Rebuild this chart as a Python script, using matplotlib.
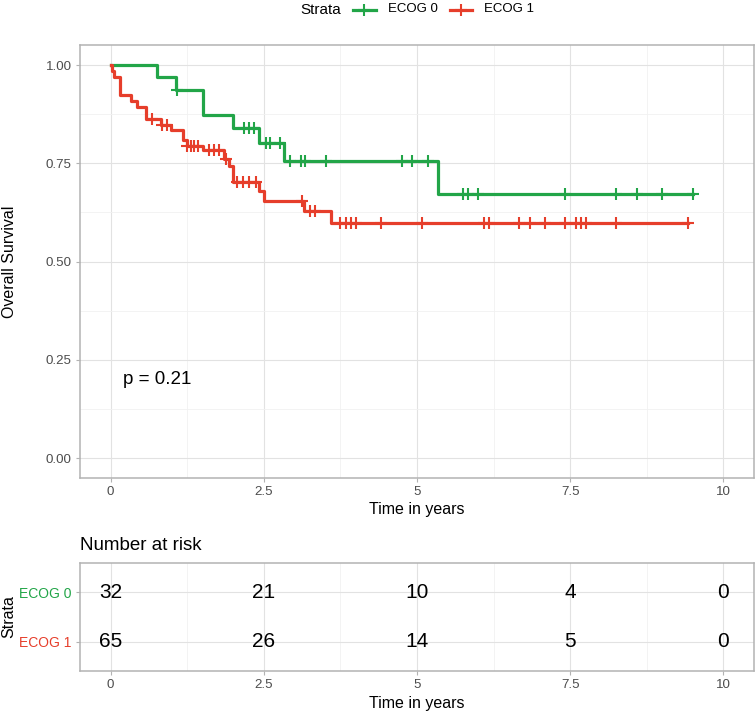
import numpy as np
import matplotlib
matplotlib.use("Agg")
import matplotlib.pyplot as plt
from matplotlib.lines import Line2D
from matplotlib.ticker import MultipleLocator

plt.rcParams['font.family'] = ['Liberation Sans', 'DejaVu Sans']

# Kaplan-Meier steps
ecog0_times = [0, 0.76, 1.07, 1.51, 2.00, 2.42, 2.83, 5.34]
ecog0_surv = [1.0, 0.969, 0.9375, 0.873, 0.840, 0.802, 0.755, 0.673]
ecog0_end = 9.50
ecog0_censor = [1.08, 2.18, 2.26, 2.34, 2.53, 2.60, 2.76, 2.92, 3.10, 3.17, 3.51,
                4.76, 4.92, 5.18, 5.75, 5.84, 6.00, 7.42, 8.25, 8.59, 9.00, 9.50]

ecog1_times = [0, 0.02, 0.05, 0.16, 0.34, 0.43, 0.58, 0.82, 0.98, 1.18, 1.25, 1.50,
               1.85, 1.93, 2.00, 2.42, 2.50, 3.16, 3.59]
ecog1_surv = [1.0, 0.985, 0.969, 0.923, 0.908, 0.892, 0.862, 0.848, 0.834, 0.810, 0.795,
              0.783, 0.761, 0.743, 0.703, 0.679, 0.654, 0.629, 0.599]
ecog1_end = 9.42
ecog1_censor = [0.67, 0.84, 0.92, 1.25, 1.31, 1.36, 1.43, 1.60, 1.69, 1.77, 1.89, 2.07,
                2.16, 2.26, 2.38, 3.13, 3.26, 3.34, 3.75, 3.84, 3.93, 4.00, 4.42, 5.08,
                6.09, 6.17, 6.67, 6.84, 7.09, 7.42, 7.59, 7.67, 7.75, 8.25, 9.42]

strata = ['ECOG 0', 'ECOG 1']
colors = ['#22A548', '#E63E2B']

risk_times = [0, 2.5, 5, 7.5, 10]
risk_ecog0 = [32, 21, 10, 4, 0]
risk_ecog1 = [65, 26, 14, 5, 0]

pval_text = 'p = 0.21'

W, H = 755, 712
fig = plt.figure(figsize=(W / 100, H / 100), dpi=100)

border = '#B3B3B3'
major = '#E2E2E2'
minor = '#F1F1F1'
tick_col = '#4D4D4D'


def style_axes(ax):
    for s in ax.spines.values():
        s.set_color(border)
        s.set_linewidth(1.1)
    ax.tick_params(which='major', length=3, width=0.8, color=border,
                   labelcolor=tick_col, labelsize=9.6, pad=3)
    ax.tick_params(which='minor', length=0)
    ax.grid(which='major', color=major, lw=0.8)
    ax.set_axisbelow(True)


# main survival panel
ax = fig.add_axes([80 / W, 1 - 477.7 / H, 674 / W, 432.3 / H])
style_axes(ax)
ax.xaxis.set_minor_locator(MultipleLocator(1.25))
ax.yaxis.set_minor_locator(MultipleLocator(0.125))
ax.grid(which='minor', color=minor, lw=0.6)

curves = [(ecog0_times, ecog0_surv, ecog0_end, ecog0_censor),
          (ecog1_times, ecog1_surv, ecog1_end, ecog1_censor)]
for (t, s, end, cens), col in zip(curves, colors):
    ax.step(t + [end], s + [s[-1]], where='post', color=col, lw=2.3, zorder=3)
    idx = np.searchsorted(t, cens, side='right') - 1
    ax.plot(cens, np.array(s)[idx], ls='none', marker='+', ms=8, mew=1.5,
            color=col, zorder=4)

ax.set_xlim(-0.5, 10.5)
ax.set_ylim(-0.05, 1.05)
ax.set_xticks([0, 2.5, 5, 7.5, 10])
ax.set_xticklabels(['0', '2.5', '5', '7.5', '10'])
ax.set_yticks([0, 0.25, 0.5, 0.75, 1.0])
ax.set_yticklabels(['0.00', '0.25', '0.50', '0.75', '1.00'])
ax.set_xlabel('Time in years', fontsize=11.5)
ax.set_ylabel('Overall Survival', fontsize=11.5)
ax.xaxis.set_label_coords(0.5, -0.057)
ax.yaxis.set_label_coords(-0.094, 0.5)
ax.text(0.2, 0.2, pval_text, fontsize=13.5, ha='left', va='center')

# legend across the top
ly = 1 - 9.5 / H
fig.text(300 / W, ly, 'Strata', fontsize=11, va='center', ha='left')
for x0, x1, col, lab in [(352.7, 376, colors[0], strata[0]),
                         (450, 471.7, colors[1], strata[1])]:
    fig.add_artist(Line2D([x0 / W, x1 / W], [ly, ly], transform=fig.transFigure,
                          color=col, lw=2.3))
    fig.add_artist(Line2D([(x0 + x1) / 2 / W], [ly], transform=fig.transFigure,
                          color=col, marker='+', ms=8, mew=1.5, ls='none'))
    fig.text((x1 + 12) / W, ly, lab, fontsize=9.5, va='center', ha='left')

# number at risk table
fig.text(80 / W, 1 - 550 / H, 'Number at risk', fontsize=13.5, va='baseline', ha='left')

rax = fig.add_axes([80 / W, 1 - 671 / H, 674 / W, 108 / H])
style_axes(rax)
rax.xaxis.set_minor_locator(MultipleLocator(1.25))
rax.grid(which='minor', axis='x', color=minor, lw=0.6)
rax.set_xlim(-0.5, 10.5)
rax.set_ylim(0.4, 2.6)
rax.set_xticks([0, 2.5, 5, 7.5, 10])
rax.set_xticklabels(['0', '2.5', '5', '7.5', '10'])
rax.set_yticks([2, 1])
rax.set_yticklabels(strata, fontsize=10)
for lab, col in zip(rax.get_yticklabels(), colors):
    lab.set_color(col)
for row, counts in zip([2, 1], [risk_ecog0, risk_ecog1]):
    for t, n in zip(risk_times, counts):
        rax.text(t, row, str(n), fontsize=15, ha='center', va='center')
rax.set_xlabel('Time in years', fontsize=11.5)
rax.set_ylabel('Strata', fontsize=11.5)
rax.xaxis.set_label_coords(0.5, -0.23)
rax.yaxis.set_label_coords(-0.094, 0.5)

fig.savefig('out.png', dpi=100)
